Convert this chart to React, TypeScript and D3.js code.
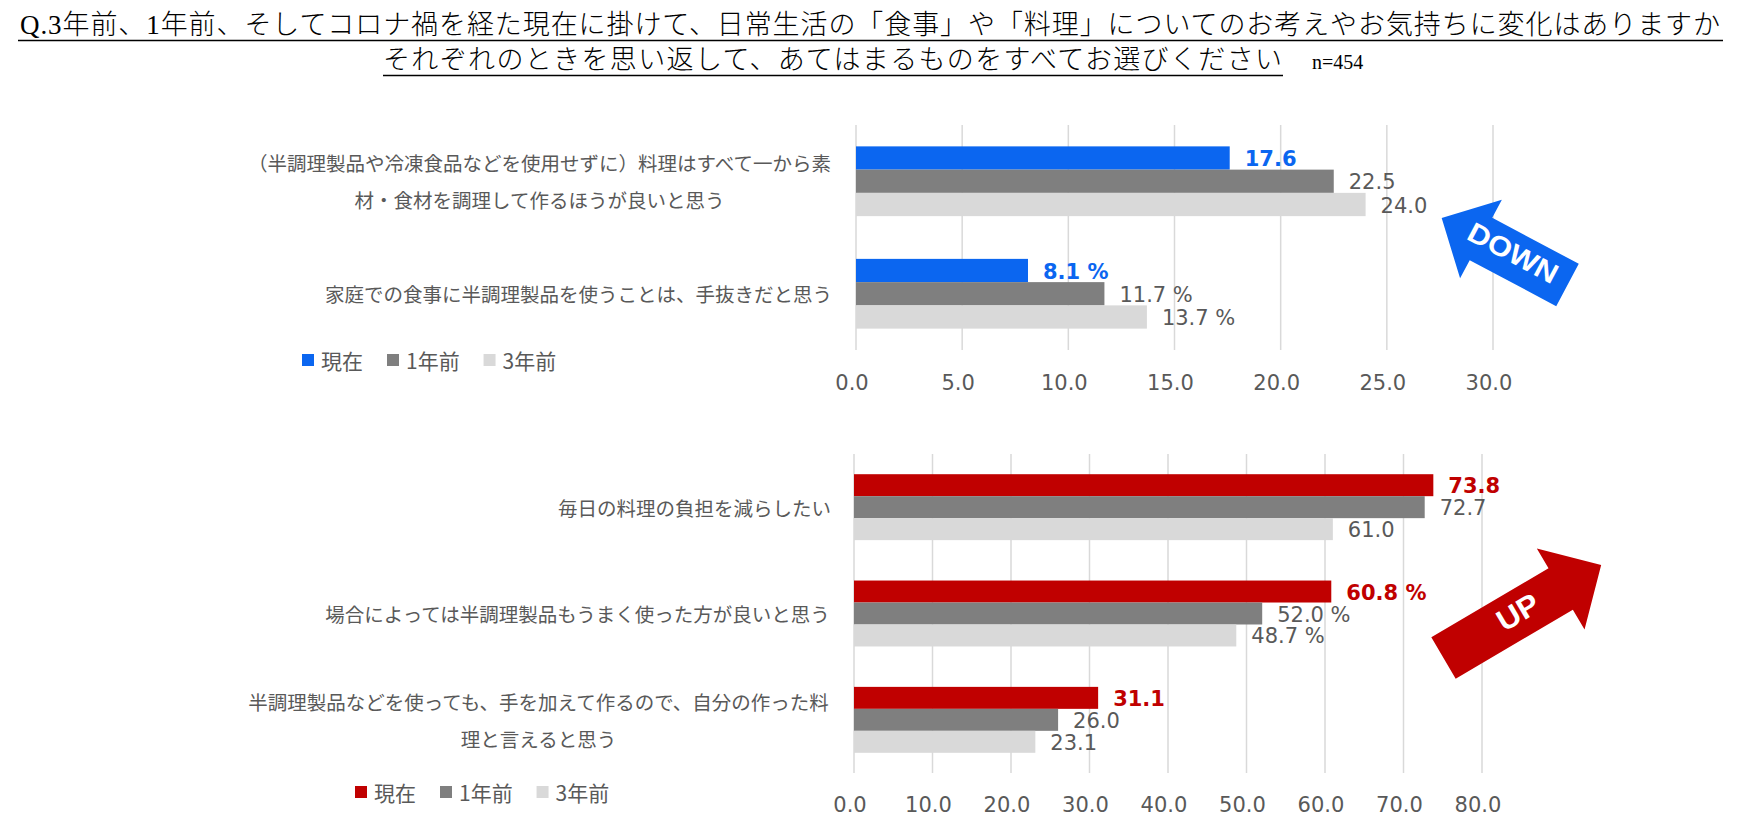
import React from "react";
import * as d3 from "d3";

// ---------- data ----------
const seriesNames = ["現在", "1年前", "3年前"];

const topCategories = [
  ["（半調理製品や冷凍食品などを使用せずに）料理はすべて一から素", "材・食材を調理して作るほうが良いと思う"],
  ["家庭での食事に半調理製品を使うことは、手抜きだと思う"],
];
const topNow = [17.6, 8.1];
const topOneYear = [22.5, 11.7];
const topThreeYear = [24.0, 13.7];
const topSuffix = ["", " %"];
const topTicks = [0, 5, 10, 15, 20, 25, 30];

const bottomCategories = [
  ["毎日の料理の負担を減らしたい"],
  ["場合によっては半調理製品もうまく使った方が良いと思う"],
  ["半調理製品などを使っても、手を加えて作るので、自分の作った料", "理と言えると思う"],
];
const bottomNow = [73.8, 60.8, 31.1];
const bottomOneYear = [72.7, 52.0, 26.0];
const bottomThreeYear = [61.0, 48.7, 23.1];
const bottomSuffix = ["", " %", ""];
const bottomTicks = [0, 10, 20, 30, 40, 50, 60, 70, 80];

const titleLine1 = "Q.3年前、1年前、そしてコロナ禍を経た現在に掛けて、日常生活の「食事」や「料理」についてのお考えやお気持ちに変化はありますか";
const titleLine2 = "それぞれのときを思い返して、あてはまるものをすべてお選びください";
const sampleNote = "n=454";

// ---------- styles ----------
const GRAY_DARK = "#7f7f7f";
const GRAY_LIGHT = "#d9d9d9";
const GRID = "#d9d9d9";
const TEXT = "#595959";
const BLUE = "#0b66f0";
const RED = "#c00000";
const JP_FONT = "'Noto Sans CJK JP', 'Noto Sans', sans-serif";
const NUM_FONT = "'DejaVu Sans', Verdana, sans-serif";

function estWidth(s: string, fs: number) {
  let w = 0;
  for (const ch of s) w += ch.charCodeAt(0) > 0x2000 ? fs : fs * 0.55;
  return w;
}

type PanelProps = {
  categories: string[][];
  now: number[];
  oneYear: number[];
  threeYear: number[];
  suffix: string[];
  ticks: number[];
  domainMax: number;
  xRange: [number, number];
  yRange: [number, number];
  nowColor: string;
  labelRight: number;
  tickY: number;
  legendX: number;
  legendY: number;
};

function Panel(p: PanelProps) {
  const x = d3.scaleLinear().domain([0, p.domainMax]).range(p.xRange);
  const y = d3
    .scaleBand<number>()
    .domain(p.categories.map((_, i) => i))
    .range(p.yRange)
    .paddingInner(0.38)
    .paddingOuter(0.19);
  const sub = d3.scaleBand<number>().domain([0, 1, 2]).range([0, y.bandwidth()]);
  const colors = [p.nowColor, GRAY_DARK, GRAY_LIGHT];
  const series = [p.now, p.oneYear, p.threeYear];
  const fmt = d3.format(".1f");
  const catFs = 19.5;
  const lineH = 37;
  const legFs = 21;

  let lx = p.legendX;
  const legendItems = seriesNames.map((n, i) => {
    const item = { x: lx, name: n, color: colors[i] };
    lx += 19 + estWidth(n, legFs) + 24;
    return item;
  });

  return (
    <g>
      {p.ticks.map((t) => (
        <line key={"g" + t} x1={x(t)} x2={x(t)} y1={p.yRange[0]} y2={p.yRange[1]} stroke={GRID} strokeWidth={1.5} />
      ))}
      {p.ticks.map((t) => (
        <text
          key={"t" + t}
          x={x(t) - 4}
          y={p.tickY}
          textAnchor="middle"
          dominantBaseline="central"
          fontFamily={NUM_FONT}
          fontSize={21}
          fill={TEXT}
        >
          {fmt(t)}
        </text>
      ))}
      {p.categories.map((_, ci) =>
        series.map((s, si) => (
          <rect
            key={`b${ci}-${si}`}
            x={x(0)}
            y={(y(ci) as number) + (sub(si) as number)}
            width={x(s[ci]) - x(0)}
            height={sub.bandwidth()}
            fill={colors[si]}
          />
        ))
      )}
      {p.categories.map((_, ci) =>
        series.map((s, si) => (
          <text
            key={`v${ci}-${si}`}
            x={x(s[ci]) + 15}
            y={(y(ci) as number) + (sub(si) as number) + sub.bandwidth() / 2 + 1}
            dominantBaseline="central"
            fontFamily={NUM_FONT}
            fontSize={21}
            fontWeight={si === 0 ? "bold" : "normal"}
            fill={si === 0 ? p.nowColor : TEXT}
          >
            {fmt(s[ci]) + p.suffix[ci]}
          </text>
        ))
      )}
      {p.categories.map((lines, ci) => {
        const cy = (y(ci) as number) + y.bandwidth() / 2;
        const maxW = Math.max(...lines.map((l) => estWidth(l, catFs)));
        const cx = p.labelRight - maxW / 2;
        return lines.map((l, li) => (
          <text
            key={`c${ci}-${li}`}
            x={cx}
            y={cy + (li - (lines.length - 1) / 2) * lineH}
            textAnchor="middle"
            dominantBaseline="central"
            fontFamily={JP_FONT}
            fontSize={catFs}
            fill={TEXT}
          >
            {l}
          </text>
        ));
      })}
      {legendItems.map((it) => (
        <g key={"l" + it.name}>
          <rect x={it.x} y={p.legendY - 6} width={12} height={12} fill={it.color} />
          <text
            x={it.x + 19}
            y={p.legendY}
            dominantBaseline="central"
            fontFamily={JP_FONT}
            fontSize={legFs}
            fill={TEXT}
          >
            {it.name}
          </text>
        </g>
      ))}
    </g>
  );
}

type ArrowProps = {
  tx: number;
  ty: number;
  angle: number;
  shaftLen: number;
  shaftW: number;
  headLen: number;
  headW: number;
  color: string;
  label: string;
  labelX: number;
  labelY: number;
  labelAngle: number;
  labelSize: number;
  labelLen: number;
};

function Arrow(a: ArrowProps) {
  const pts: [number, number][] = [
    [0, -a.shaftW / 2],
    [a.shaftLen, -a.shaftW / 2],
    [a.shaftLen, -a.headW / 2],
    [a.shaftLen + a.headLen, 0],
    [a.shaftLen, a.headW / 2],
    [a.shaftLen, a.shaftW / 2],
    [0, a.shaftW / 2],
  ];
  return (
    <g>
      <polygon
        points={pts.map((q) => q.join(",")).join(" ")}
        transform={`translate(${a.tx},${a.ty}) rotate(${a.angle})`}
        fill={a.color}
      />
      <text
        transform={`translate(${a.labelX},${a.labelY}) rotate(${a.labelAngle})`}
        textAnchor="middle"
        dominantBaseline="central"
        fontFamily="'Liberation Sans', Arial, sans-serif"
        fontSize={a.labelSize}
        fontWeight={600}
        textLength={a.labelLen}
        lengthAdjust="spacingAndGlyphs"
        fill="#ffffff"
      >
        {a.label}
      </text>
    </g>
  );
}

export default function App() {
  return (
    <svg
      width={1756}
      height={821}
      style={{ position: "absolute", left: 0, top: 0, background: "#ffffff" }}
    >
      <text
        x={20}
        y={34}
        fontFamily="'Liberation Serif', 'Noto Sans CJK JP', serif"
        fontSize={27}
        fontWeight={300}
        textLength={1700}
        lengthAdjust="spacing"
        fill="#000"
      >
        {titleLine1}
      </text>
      <line x1={18} x2={1723} y1={40.5} y2={40.5} stroke="#000" strokeWidth={1.5} />
      <text
        x={383}
        y={69}
        fontFamily="'Liberation Serif', 'Noto Sans CJK JP', serif"
        fontSize={27}
        fontWeight={300}
        textLength={899}
        lengthAdjust="spacing"
        fill="#000"
      >
        {titleLine2}
      </text>
      <line x1={383} x2={1283} y1={75.5} y2={75.5} stroke="#000" strokeWidth={1.5} />
      <text x={1312} y={69} fontFamily="'Liberation Serif', serif" fontSize={20} fill="#000">
        {sampleNote}
      </text>

      <Panel
        categories={topCategories}
        now={topNow}
        oneYear={topOneYear}
        threeYear={topThreeYear}
        suffix={topSuffix}
        ticks={topTicks}
        domainMax={30}
        xRange={[856, 1493]}
        yRange={[125, 350]}
        nowColor={BLUE}
        labelRight={832}
        tickY={383}
        legendX={302}
        legendY={360}
      />
      <Panel
        categories={bottomCategories}
        now={bottomNow}
        oneYear={bottomOneYear}
        threeYear={bottomThreeYear}
        suffix={bottomSuffix}
        ticks={bottomTicks}
        domainMax={80}
        xRange={[854, 1482]}
        yRange={[454, 773]}
        nowColor={RED}
        labelRight={831}
        tickY={805}
        legendX={355}
        legendY={792}
      />

      <Arrow
        tx={1567.5}
        ty={285}
        angle={208}
        shaftLen={98}
        shaftW={48}
        headLen={44.5}
        headW={89}
        color={BLUE}
        label="DOWN"
        labelX={1513}
        labelY={253}
        labelAngle={28}
        labelSize={28}
        labelLen={98}
      />
      <Arrow
        tx={1443.5}
        ty={658}
        angle={-30.5}
        shaftLen={136}
        shaftW={48}
        headLen={47}
        headW={94}
        color={RED}
        label="UP"
        labelX={1518}
        labelY={612}
        labelAngle={-30.5}
        labelSize={30}
        labelLen={44}
      />
    </svg>
  );
}
